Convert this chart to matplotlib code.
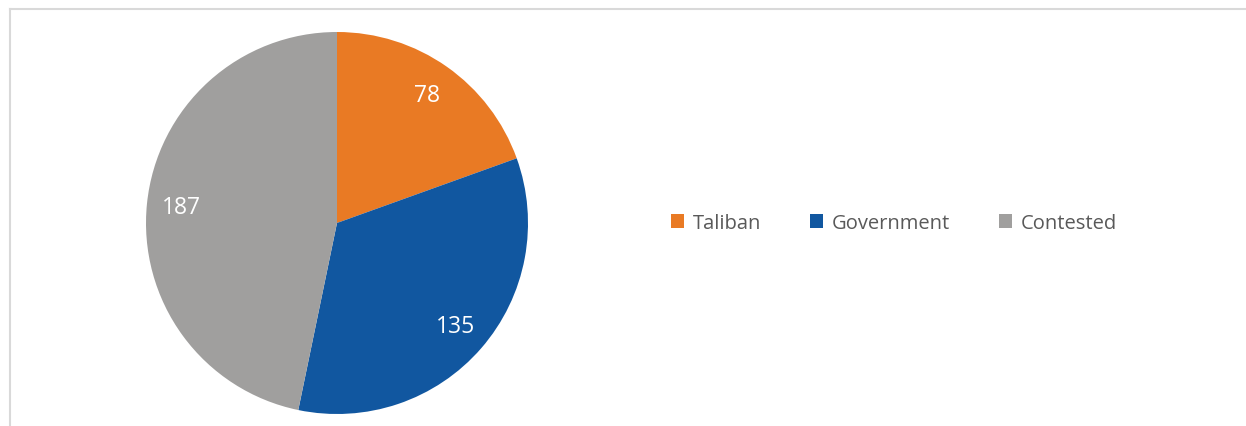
import matplotlib.pyplot as plt
from matplotlib.patches import Patch
from matplotlib.lines import Line2D

labels = ['Taliban', 'Government', 'Contested']
values = [78, 135, 187]
colors = ['#E97A24', '#1157A0', '#A09F9E']

plt.rcParams['font.family'] = ['Open Sans', 'DejaVu Sans']

fig = plt.figure(figsize=(12.46, 4.27), dpi=100)

# chart frame (only top and left edges visible)
fig.add_artist(Line2D([10/1246, 10/1246], [0, 1 - 10/427], color='#D9D9D9', lw=1.5))
fig.add_artist(Line2D([10/1246, 1], [1 - 10/427, 1 - 10/427], color='#D9D9D9', lw=1.5))

ax = fig.add_axes([146/1246, 12/427, 382/1246, 382/427])
wedges, texts = ax.pie(values, colors=colors, startangle=90, counterclock=False,
                       labels=[str(v) for v in values], labeldistance=0.82,
                       textprops={'color': 'white', 'fontsize': 16.5})
for t in texts:
    t.set_horizontalalignment('center')
    t.set_verticalalignment('center')
ax.set_xlim(-1, 1)
ax.set_ylim(-1, 1)
ax.set_aspect('equal')

handles = [Patch(facecolor=c, edgecolor='none') for c in colors]
fig.legend(handles, labels, loc='center left', bbox_to_anchor=(653/1246, 1 - 224/427),
           ncol=3, frameon=False, fontsize=14.5, labelcolor='#595959',
           handlelength=0.65, handleheight=0.65, handletextpad=0.45, columnspacing=2.4)

fig.savefig('out.png', dpi=100)
